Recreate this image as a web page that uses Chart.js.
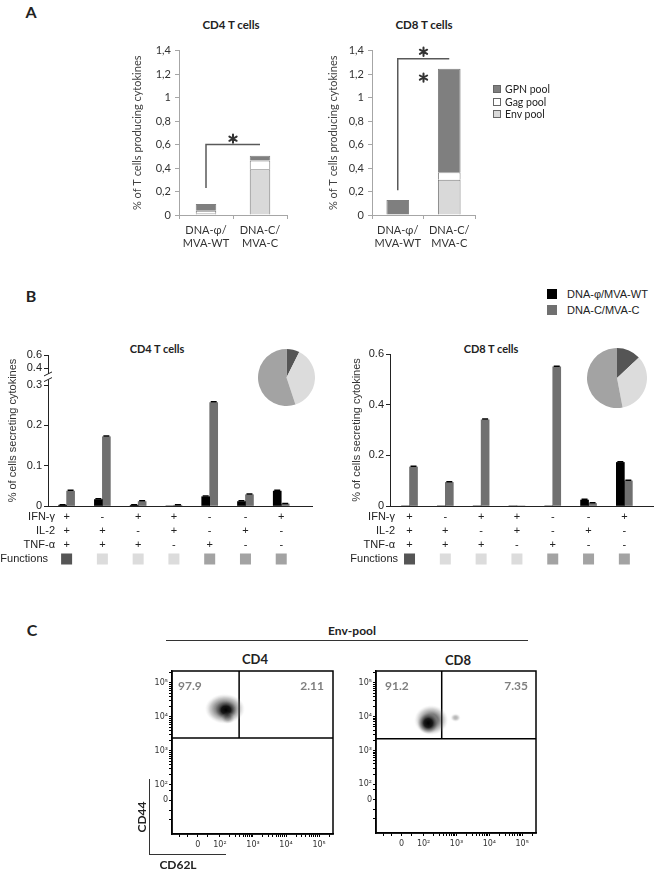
<!doctype html>
<html lang="en">
<head>
  <meta charset="utf-8">
  <title>T cell responses</title>
  <style>
    body { margin: 0; background: #fff; }
    #page { position: relative; width: 655px; height: 871px; overflow: hidden; font-family: Lato, sans-serif; color: #222; }
    #page canvas { position: absolute; }
    .t { position: absolute; white-space: nowrap; line-height: 1; transform: translate(-50%, -50%); }
    .l { position: absolute; white-space: nowrap; line-height: 1; transform: translateY(-50%); }
    .b { font-weight: bold; }
    .sq { position: absolute; box-sizing: border-box; }
  </style>
</head>
<body>
<div id="page">
  <!-- panel A -->
  <div class="t b" style="left:31px;top:12px;font-size:16px">A</div>
  <div class="t b" style="left:231px;top:25px;font-size:11.5px">CD4 T cells</div>
  <div class="t b" style="left:424px;top:25px;font-size:11.5px">CD8 T cells</div>
  <canvas id="aCd4" width="200" height="215" style="left:99px;top:40px"></canvas>
  <canvas id="aCd8" width="200" height="215" style="left:292px;top:40px"></canvas>
  <div class="sq" style="left:493px;top:85px;width:8px;height:8px;background:#7f7f7f;border:1px solid #666"></div>
  <div class="l" style="left:505px;top:89px;font-size:10.5px">GPN pool</div>
  <div class="sq" style="left:493px;top:98px;width:8px;height:8px;background:#fff;border:1px solid #666"></div>
  <div class="l" style="left:505px;top:102px;font-size:10.5px">Gag pool</div>
  <div class="sq" style="left:493px;top:110px;width:8px;height:8px;background:#d9d9d9;border:1px solid #666"></div>
  <div class="l" style="left:505px;top:114px;font-size:10.5px">Env pool</div>

  <!-- panel B -->
  <div class="t b" style="left:31px;top:296px;font-size:16px">B</div>
  <div class="sq" style="left:547px;top:289px;width:10px;height:10px;background:#000"></div>
  <div class="l" style="left:567px;top:294px;font-size:11px;font-family:'Liberation Sans',Arial">DNA-φ/MVA-WT</div>
  <div class="sq" style="left:547px;top:305px;width:10px;height:10px;background:#707070"></div>
  <div class="l" style="left:567px;top:310px;font-size:11px;font-family:'Liberation Sans',Arial">DNA-C/MVA-C</div>
  <div class="t b" style="left:157px;top:348px;font-size:11px">CD4 T cells</div>
  <div class="t b" style="left:491px;top:348px;font-size:11px">CD8 T cells</div>
  <canvas id="bCd4" width="322" height="236" style="left:0px;top:340px"></canvas>
  <canvas id="bCd8" width="325" height="236" style="left:330px;top:340px"></canvas>
  <canvas id="pCd4" width="57" height="57" style="left:258px;top:349px"></canvas>
  <canvas id="pCd8" width="60" height="60" style="left:587px;top:348px"></canvas>

  <!-- panel C -->
  <div class="t b" style="left:32px;top:630px;font-size:16px">C</div>
  <div class="t b" style="left:352px;top:631px;font-size:12px">Env-pool</div>
  <div style="position:absolute;left:166px;top:640px;width:362px;height:1px;background:#333"></div>
  <div class="t b" style="left:255px;top:659px;font-size:13px">CD4</div>
  <div class="t b" style="left:458px;top:660px;font-size:13px">CD8</div>
  <canvas id="cCd4" width="200" height="195" style="left:140px;top:665px"></canvas>
  <canvas id="cCd8" width="200" height="195" style="left:344px;top:665px"></canvas>
  <div style="position:absolute;left:149px;top:779px;width:76px;height:75px;border-left:1px solid #333;border-bottom:1px solid #333"></div>
  <div class="t b" style="left:142px;top:817px;font-size:12px;transform:translate(-50%,-50%) rotate(-90deg)">CD44</div>
  <div class="t b" style="left:178px;top:865px;font-size:12px">CD62L</div>
</div>

<script src="https://cdn.jsdelivr.net/npm/chart.js@4.4.0/dist/chart.umd.min.js"></script>
<script>
  // ---- panel A: stacked responses per pool
  const groupsA = [['DNA-φ/', 'MVA-WT'], ['DNA-C/', 'MVA-C']];
  const envCd4 = [0.015, 0.39];
  const gagCd4 = [0.022, 0.075];
  const gpnCd4 = [0.057, 0.04];
  const envCd8 = [0, 0.30];
  const gagCd8 = [0, 0.063];
  const gpnCd8 = [0.127, 0.882];
  // bracket: [from group, to group, bar level, drop level], stars: levels
  const sigCd4 = [0, 1, 0.6, 0.23];
  const starsCd4 = [0.65];
  const sigCd8 = [0, 1, 1.33, 0.21];
  const starsCd8 = [1.39, 1.17];

  // ---- panel B: polyfunctionality
  const ifng = ['+', '-', '+', '+', '-', '-', '+'];
  const il2 = ['+', '+', '-', '+', '-', '+', '-'];
  const tnfa = ['+', '+', '+', '-', '+', '-', '-'];
  const nFunctions = [3, 2, 2, 2, 1, 1, 1];
  const wtCd4 = [0.002, 0.016, 0.002, 0, 0.023, 0.011, 0.037];
  const cCd4 = [0.037, 0.172, 0.011, 0.002, 0.257, 0.028, 0.005];
  const wtCd4Err = [0.001, 0.002, 0.001, 0, 0.002, 0.002, 0.002];
  const cCd4Err = [0.002, 0.002, 0.002, 0.001, 0.002, 0.002, 0.001];
  const wtCd8 = [0, 0, 0, 0, 0, 0.0235, 0.172];
  const cCd8 = [0.154, 0.093, 0.34, 0, 0.549, 0.01, 0.099];
  const wtCd8Err = [0, 0, 0, 0, 0, 0.003, 0.003];
  const cCd8Err = [0.003, 0.003, 0.003, 0, 0.003, 0.003, 0.003];
  const pieCd4 = [7.4, 37.5, 55.1];
  const pieCd8 = [13, 34, 53];
  const breakTicks = [0, 0.1, 0.2, 0.3, 0.4, 0.6];
  const plainTicks = [0, 0.2, 0.4, 0.6];

  // ---- panel C: CD44 / CD62L
  const decadeLabels = ['0', '10²', '10³', '10⁴', '10⁵'];
  const xDecades = [1.33, 2, 3, 4, 5];
  const yDecades = [1.55, 2, 3, 4, 5];
  const gateCd4 = [2.58, 3.38];
  const gateCd8 = [2.55, 3.35];
  const quadCd4 = ['97.9', '2.11'];
  const quadCd8 = ['91.2', '7.35'];
  const blobCd4 = [{ x: 2.18, y: 4.18 }];
  const blobCd8 = [{ x: 2.23, y: 3.84 }];
  const blobCd8b = [{ x: 2.97, y: 3.97 }];

  Chart.defaults.font.family = 'Lato';
  const fontA = { family: 'Lato', size: 11 };
  const fontB = { family: "'Liberation Sans', Arial", size: 11 };
  const funcColors = { 3: '#555555', 2: '#dcdcdc', 1: '#a3a3a3' };

  function commaNum(v) {
    const r = Math.round(v * 10) / 10;
    return Number.isInteger(r) ? String(r) : r.toFixed(1).replace('.', ',');
  }

  function asterisk(ctx, cx, cy, r) {
    ctx.beginPath();
    for (let k = 0; k < 3; k++) {
      const a = Math.PI / 2 + k * Math.PI / 3;
      ctx.moveTo(cx - r * Math.cos(a), cy - r * Math.sin(a));
      ctx.lineTo(cx + r * Math.cos(a), cy + r * Math.sin(a));
    }
    ctx.stroke();
  }

  const sigPlugin = {
    id: 'sig',
    afterDraw(chart, args, o) {
      const { ctx, scales: { x, y } } = chart;
      const b = o.bracket;
      const x0 = x.getPixelForValue(b[0]), x1 = x.getPixelForValue(b[1]);
      const yt = y.getPixelForValue(b[2]), yb = y.getPixelForValue(b[3]);
      ctx.save();
      ctx.strokeStyle = '#595959';
      ctx.lineWidth = 1.5;
      ctx.beginPath();
      ctx.moveTo(x0, yb); ctx.lineTo(x0, yt); ctx.lineTo(x1, yt);
      ctx.stroke();
      ctx.strokeStyle = '#333';
      ctx.lineWidth = 2;
      ctx.lineCap = 'round';
      o.stars.forEach(s => asterisk(ctx, (x0 + x1) / 2, y.getPixelForValue(s), 4.2));
      ctx.restore();
    }
  };

  function stackChart(id, env, gag, gpn, pad, catPct, titlePad, bracket, stars) {
    new Chart(document.getElementById(id), {
      type: 'bar',
      data: {
        labels: groupsA,
        datasets: [
          { label: 'Env pool', data: env, backgroundColor: '#d9d9d9' },
          { label: 'Gag pool', data: gag, backgroundColor: '#ffffff' },
          { label: 'GPN pool', data: gpn, backgroundColor: '#7f7f7f' }
        ]
      },
      options: {
        responsive: false, animation: false, events: [],
        layout: { padding: pad },
        datasets: { bar: { borderColor: '#7f7f7f', borderWidth: 1, barPercentage: 1, categoryPercentage: catPct } },
        plugins: { legend: { display: false }, tooltip: { enabled: false }, sig: { bracket: bracket, stars: stars } },
        scales: {
          x: {
            stacked: true,
            grid: { offset: true, drawOnChartArea: false, tickLength: 4, color: '#a6a6a6' },
            border: { color: '#a6a6a6' },
            ticks: { maxRotation: 0, minRotation: 0, autoSkip: false, font: { family: 'Lato', size: 11, lineHeight: '13px' }, color: '#333', padding: 5 },
            afterFit: s => { s.height = 40; }
          },
          y: {
            stacked: true, min: 0, max: 1.4,
            grid: { drawOnChartArea: false, tickLength: 4, color: '#a6a6a6' },
            border: { color: '#a6a6a6' },
            ticks: { stepSize: 0.2, font: fontA, color: '#333', padding: 4, callback: v => commaNum(v) },
            title: { display: true, text: '% of T cells producing cytokines', font: fontA, color: '#404040', padding: { top: titlePad, bottom: 0 } },
            afterFit: s => { s.width = 80; }
          }
        }
      },
      plugins: [sigPlugin]
    });
  }

  stackChart('aCd4', envCd4, gagCd4, gpnCd4, { top: 9, right: 12 }, 0.38, 31.4, sigCd4, starsCd4);
  stackChart('aCd8', envCd8, gagCd8, gpnCd8, { top: 9, right: 17 }, 0.44, 34.4, sigCd8, starsCd8);

  // ---- panel B helpers
  function toBroken(v) {
    return v <= 0.3 ? v : 0.3425 + (v - 0.4) * 0.1625;
  }

  const capPlugin = {
    id: 'caps',
    afterDatasetsDraw(chart) {
      const { ctx, scales: { y } } = chart;
      ctx.save();
      ctx.strokeStyle = '#000';
      ctx.lineWidth = 1.5;
      chart.data.datasets.forEach((ds, di) => {
        if (!ds.errors) return;
        chart.getDatasetMeta(di).data.forEach((bar, i) => {
          const v = ds.data[i].y;
          if (!v) return;
          const yTop = y.getPixelForValue(v + ds.errors[i]);
          ctx.beginPath();
          ctx.moveTo(bar.x, bar.y); ctx.lineTo(bar.x, yTop);
          ctx.moveTo(bar.x - 3, yTop); ctx.lineTo(bar.x + 3, yTop);
          ctx.stroke();
        });
      });
      ctx.restore();
    }
  };

  const tablePlugin = {
    id: 'table',
    afterDraw(chart, args, o) {
      const { ctx, chartArea: a, scales: { x } } = chart;
      const rowY = i => a.bottom + 11 + 14 * i;
      ctx.save();
      ctx.font = "11px 'Liberation Sans', Arial";
      ctx.fillStyle = '#222';
      ctx.textBaseline = 'middle';
      ctx.textAlign = 'right';
      ['IFN-γ', 'IL-2', 'TNF-α'].forEach((t, i) => ctx.fillText(t, a.left + o.labelDx, rowY(i)));
      ctx.fillText('Functions', a.left + o.funcDx, rowY(3));
      nFunctions.forEach((n, i) => {
        ctx.fillStyle = funcColors[n];
        ctx.fillRect(x.getPixelForValue(i) - 5.5, rowY(3) - 5.5, 11, 11);
      });
      ctx.restore();
    }
  };

  const breakPlugin = {
    id: 'axisBreak',
    afterDraw(chart, args, o) {
      if (!o.on) return;
      const { ctx, chartArea: a, scales: { y } } = chart;
      const y0 = y.getPixelForValue(0.314), y1 = y.getPixelForValue(0.328);
      ctx.save();
      ctx.fillStyle = '#fff';
      ctx.fillRect(a.left - 2, y1, 4, y0 - y1);
      ctx.strokeStyle = '#222';
      ctx.lineWidth = 1;
      ctx.beginPath();
      ctx.moveTo(a.left - 4, y0 + 2); ctx.lineTo(a.left + 4, y0 - 2);
      ctx.moveTo(a.left - 4, y1 + 2); ctx.lineTo(a.left + 4, y1 - 2);
      ctx.stroke();
      ctx.restore();
    }
  };

  function polyChart(id, wt, c, wtErr, cErr, o) {
    new Chart(document.getElementById(id), {
      type: 'bar',
      data: {
        datasets: [
          { label: 'DNA-φ/MVA-WT', data: wt.map((v, i) => ({ x: i, y: v })), errors: wtErr, backgroundColor: '#000' },
          { label: 'DNA-C/MVA-C', data: c.map((v, i) => ({ x: i, y: v })), errors: cErr, backgroundColor: '#707070' }
        ]
      },
      options: {
        responsive: false, animation: false, events: [],
        layout: { padding: o.pad },
        datasets: { bar: { barThickness: 8 } },
        plugins: {
          legend: { display: false }, tooltip: { enabled: false },
          table: { labelDx: o.labelDx, funcDx: o.funcDx },
          axisBreak: { on: o.broken }
        },
        scales: {
          x: {
            type: 'linear', min: o.xMin, max: o.xMax, offset: false,
            grid: { display: false, drawTicks: false },
            border: { color: '#222' },
            afterBuildTicks: s => { s.ticks = ifng.map((t, i) => ({ value: i })); },
            ticks: {
              autoSkip: false, maxRotation: 0, padding: 4, color: '#222',
              font: { family: "'Liberation Sans', Arial", size: 11, lineHeight: '14px' },
              callback: v => [ifng[v], il2[v], tnfa[v]]
            },
            afterFit: s => { s.height = 70; }
          },
          y: {
            min: 0, max: o.yMax,
            grid: { drawOnChartArea: false, tickLength: 4, color: '#222' },
            border: { color: '#222' },
            afterBuildTicks: s => { s.ticks = o.ticks.map(v => ({ value: o.broken ? toBroken(v) : v })); },
            ticks: {
              autoSkip: false, font: fontB, color: '#222', padding: 2,
              callback: (v, i) => String(o.ticks[i])
            },
            title: { display: true, text: '% of cells secreting cytokines', font: fontB, color: '#333', padding: { top: o.titlePad, bottom: 0 } },
            afterFit: s => { s.width = o.yWidth; }
          }
        }
      },
      plugins: [capPlugin, tablePlugin, breakPlugin]
    });
  }

  polyChart('bCd4', wtCd4, cCd4, wtCd4Err, cCd4Err, {
    pad: { top: 15, right: 10 }, xMin: -0.52, xMax: 6.86, yMax: 0.375, ticks: breakTicks, broken: true,
    yWidth: 48, titlePad: 6.4, labelDx: 7, funcDx: 0
  });
  polyChart('bCd8', wtCd8, cCd8, wtCd8Err, cCd8Err, {
    pad: { top: 14, right: 2 }, xMin: -0.545, xMax: 6.80, yMax: 0.6, ticks: plainTicks, broken: false,
    yWidth: 60, titlePad: 20.4, labelDx: 5, funcDx: 8
  });

  function pie(id, vals) {
    new Chart(document.getElementById(id), {
      type: 'pie',
      data: {
        labels: ['3 functions', '2 functions', '1 function'],
        datasets: [{ data: vals, backgroundColor: [funcColors[3], funcColors[2], funcColors[1]], borderWidth: 0, hoverOffset: 0, offset: 0 }]
      },
      options: { responsive: false, animation: false, events: [], plugins: { legend: { display: false }, tooltip: { enabled: false } } }
    });
  }
  pie('pCd4', pieCd4);
  pie('pCd8', pieCd8);

  // ---- panel C helpers
  function blobImage(w, h, parts) {
    const c = document.createElement('canvas');
    c.width = w; c.height = h;
    const g = c.getContext('2d');
    parts.forEach(([cx, cy, rx, ry, a]) => {
      g.save();
      g.translate(cx, cy);
      g.scale(rx / ry, 1);
      const grad = g.createRadialGradient(0, 0, 0, 0, 0, ry);
      grad.addColorStop(0, `rgba(0,0,0,${a})`);
      grad.addColorStop(0.4, `rgba(15,15,15,${a * 0.9})`);
      grad.addColorStop(0.75, `rgba(110,110,110,${a * 0.5})`);
      grad.addColorStop(1, 'rgba(190,190,190,0)');
      g.fillStyle = grad;
      g.beginPath();
      g.arc(0, 0, ry, 0, Math.PI * 2);
      g.fill();
      g.restore();
    });
    return c;
  }

  const imgCd4 = blobImage(48, 44, [[23, 20, 20, 15, 0.7], [24, 21, 12, 10, 1], [26, 29, 7, 6, 0.3]]);
  const imgCd8 = blobImage(38, 36, [[19, 16, 17, 15, 0.65], [16, 19, 11, 11, 1]]);
  const imgCd8b = blobImage(12, 10, [[6, 5, 5, 4, 0.3]]);

  function flowTicks(majors) {
    const minors = [];
    [2, 3, 4].forEach(d => { for (let k = 2; k < 10; k++) minors.push(d + Math.log10(k)); });
    minors.push(5.3, majors[0] - 0.55, majors[0] - 0.3, majors[0] + 0.3);
    return majors.concat(minors).sort((p, q) => p - q);
  }

  function decadeLabel(majors, v) {
    const i = majors.findIndex(m => Math.abs(m - v) < 1e-6);
    return i < 0 ? '' : decadeLabels[i];
  }

  const boxPlugin = {
    id: 'box',
    afterDraw(chart, args, o) {
      const { ctx, chartArea: a } = chart;
      ctx.save();
      ctx.strokeStyle = '#000';
      ctx.lineWidth = 1.5;
      ctx.strokeRect(a.left, a.top, a.width, a.height);
      ctx.font = 'bold 12px Lato';
      ctx.fillStyle = '#7f7f7f';
      ctx.textBaseline = 'middle';
      ctx.textAlign = 'left';
      ctx.fillText(o.quad[0], a.left + o.dx[0], a.top + 15);
      ctx.textAlign = 'right';
      ctx.fillText(o.quad[1], a.right - o.dx[1], a.top + 15);
      ctx.restore();
    }
  };

  function flowChart(id, blobs, gate, quad, o) {
    const xMin = 0.55, xMax = 5.42, yMin = 0.56, yMax = 5.35;
    const axisFont = { family: 'DejaVu Sans', size: 8 };
    new Chart(document.getElementById(id), {
      type: 'scatter',
      data: {
        datasets: blobs.map(b => ({ data: b[0], pointStyle: b[1], pointRadius: 3 })).concat([
          { data: [{ x: gate[0], y: yMax }, { x: gate[0], y: gate[1] }], showLine: true, pointRadius: 0, borderColor: '#000', borderWidth: 1.5 },
          { data: [{ x: xMin, y: gate[1] }, { x: xMax, y: gate[1] }], showLine: true, pointRadius: 0, borderColor: '#000', borderWidth: 1.5 }
        ])
      },
      options: {
        responsive: false, animation: false, events: [],
        layout: { padding: o.pad },
        plugins: { legend: { display: false }, tooltip: { enabled: false }, box: { quad: quad, dx: o.dx } },
        scales: {
          x: {
            min: xMin, max: xMax,
            grid: { drawOnChartArea: false, tickLength: 3, color: '#000' },
            border: { color: '#000', width: 1.5 },
            afterBuildTicks: s => { s.ticks = flowTicks(xDecades).map(v => ({ value: v })); },
            ticks: { autoSkip: false, maxRotation: 0, font: axisFont, color: '#333', padding: 3, callback: v => decadeLabel(xDecades, v) },
            afterFit: s => { s.height = o.xHeight; }
          },
          y: {
            min: yMin, max: yMax,
            grid: { drawOnChartArea: false, tickLength: 3, color: '#000' },
            border: { color: '#000', width: 1.5 },
            afterBuildTicks: s => { s.ticks = flowTicks(yDecades).map(v => ({ value: v })); },
            ticks: { autoSkip: false, font: axisFont, color: '#333', padding: 1, callback: v => decadeLabel(yDecades, v) },
            afterFit: s => { s.width = 32; }
          }
        }
      },
      plugins: [boxPlugin]
    });
  }

  flowChart('cCd4', [[blobCd4, imgCd4]], gateCd4, quadCd4, { pad: { top: 6, right: 7 }, xHeight: 26, dx: [6, 9] });
  flowChart('cCd8', [[blobCd8, imgCd8], [blobCd8b, imgCd8b]], gateCd8, quadCd8, { pad: { top: 6, right: 8 }, xHeight: 27, dx: [9, 8] });
</script>
</body>
</html>
